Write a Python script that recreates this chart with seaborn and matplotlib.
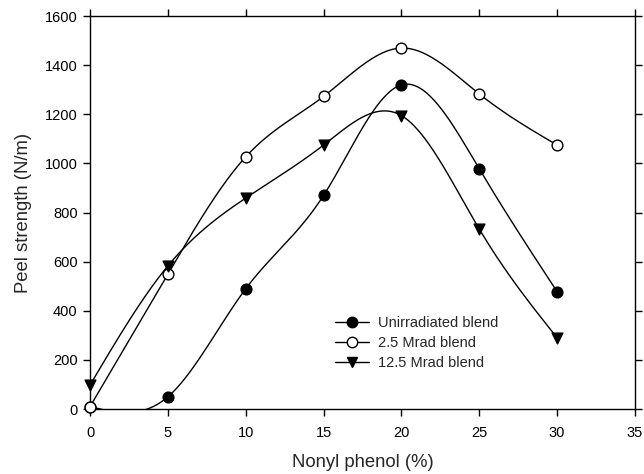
import numpy as np
import pandas as pd
import matplotlib
matplotlib.use("Agg")
import matplotlib.pyplot as plt
from matplotlib.lines import Line2D
import seaborn as sns

nonyl_phenol = [0, 5, 10, 15, 20, 25, 30]
unirradiated = [10, 50, 490, 870, 1320, 978, 478]
mrad_2_5 = [10, 550, 1027, 1273, 1470, 1283, 1075]
mrad_12_5 = [98, 583, 859, 1075, 1195, 733, 290]
series_names = ["Unirradiated blend", "2.5 Mrad blend", "12.5 Mrad blend"]
x_ticks = [0, 5, 10, 15, 20, 25, 30, 35]
y_ticks = [0, 200, 400, 600, 800, 1000, 1200, 1400, 1600]


def natural_spline(x, y, n=400):
    x = np.asarray(x, float)
    y = np.asarray(y, float)
    k = len(x)
    h = np.diff(x)
    A = np.zeros((k, k))
    b = np.zeros(k)
    A[0, 0] = 1
    A[-1, -1] = 1
    for i in range(1, k - 1):
        A[i, i - 1] = h[i - 1]
        A[i, i] = 2 * (h[i - 1] + h[i])
        A[i, i + 1] = h[i]
        b[i] = 6 * ((y[i + 1] - y[i]) / h[i] - (y[i] - y[i - 1]) / h[i - 1])
    M = np.linalg.solve(A, b)
    xs = np.linspace(x[0], x[-1], n)
    idx = np.clip(np.searchsorted(x, xs) - 1, 0, k - 2)
    x0, x1 = x[idx], x[idx + 1]
    hh = x1 - x0
    t1 = x1 - xs
    t0 = xs - x0
    ys = (M[idx] * t1 ** 3 / (6 * hh) + M[idx + 1] * t0 ** 3 / (6 * hh)
          + (y[idx] / hh - M[idx] * hh / 6) * t1
          + (y[idx + 1] / hh - M[idx + 1] * hh / 6) * t0)
    return xs, ys


sns.set_theme(style="white")
plt.rcParams["font.family"] = ["Liberation Sans", "DejaVu Sans"]

fig = plt.figure(figsize=(6.44, 4.74), dpi=100)
ax = fig.add_axes([0.1398, 0.137, 0.8462, 0.829])

styles = [
    dict(marker="o", mfc="black"),
    dict(marker="o", mfc="white"),
    dict(marker="v", mfc="black"),
]
all_y = [unirradiated, mrad_2_5, mrad_12_5]

for i, (name, ys, st) in enumerate(zip(series_names, all_y, styles)):
    xs_s, ys_s = natural_spline(nonyl_phenol, ys)
    curve = pd.DataFrame({"x": xs_s, "y": ys_s})
    sns.lineplot(data=curve, x="x", y="y", ax=ax, color="black", lw=1.0,
                 estimator=None, sort=False, legend=False)
    pts = pd.DataFrame({"x": nonyl_phenol, "y": ys})
    sns.scatterplot(data=pts, x="x", y="y", ax=ax, marker=st["marker"],
                    s=60, facecolor=st["mfc"], edgecolor="black",
                    linewidth=1.0, zorder=5 + i, clip_on=False, legend=False)

ax.set_xlim(0, 35)
ax.set_ylim(0, 1600)
ax.set_xticks(x_ticks)
ax.set_yticks(y_ticks)
ax.set_xlabel("Nonyl phenol (%)", fontsize=13.3, labelpad=10)
ax.set_ylabel("Peel strength (N/m)", fontsize=13.3, labelpad=9)

for sp in ax.spines.values():
    sp.set_visible(True)
    sp.set_color("black")
    sp.set_linewidth(1.0)

ax.tick_params(axis="both", which="both", labelsize=10.5, colors="black",
               length=5, width=1.0, direction="out")
ax.tick_params(axis="both", top=True, right=True, bottom=True, left=True,
               labeltop=False, labelright=False)
for t in ax.xaxis.get_ticklines()[1::2]:
    t.set_marker(3)  # top ticks inward
for t in ax.yaxis.get_ticklines()[1::2]:
    t.set_marker(1)  # right ticks inward
ax.tick_params(axis="x", pad=7)
ax.tick_params(axis="y", pad=4)

handles = [
    Line2D([], [], color="black", lw=1.0, marker=st["marker"], markersize=7.5,
           markerfacecolor=st["mfc"], markeredgecolor="black")
    for st in styles
]
ax.legend(handles, series_names, loc="upper left", bbox_to_anchor=(0.449, 0.237),
          frameon=False, fontsize=10.5, handlelength=2.35, handletextpad=0.6,
          labelspacing=0.42, borderpad=0.0, borderaxespad=0.0)

fig.savefig("out.png", dpi=100)
